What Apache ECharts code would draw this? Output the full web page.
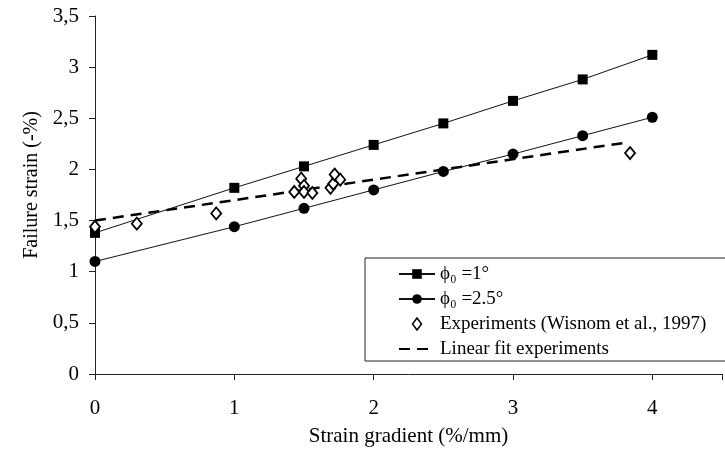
<!DOCTYPE html>
<html>
<head>
<meta charset="utf-8">
<script src="https://cdn.jsdelivr.net/npm/echarts@6/dist/echarts.min.js"></script>
<style>html,body{margin:0;padding:0;background:#fff}#c{width:725px;height:455px}</style>
</head>
<body>
<div id="c"></div>
<script>
// Data
const gradientsModel = [0, 1, 1.5, 2, 2.5, 3, 3.5, 4];
const phi1 = [1.38, 1.82, 2.03, 2.24, 2.45, 2.67, 2.88, 3.12];
const phi25 = [1.10, 1.44, 1.62, 1.80, 1.98, 2.15, 2.33, 2.51];
const expX = [0, 0.30, 0.87, 1.43, 1.48, 1.50, 1.50, 1.56, 1.69, 1.71, 1.72, 1.76, 3.84];
const expY = [1.44, 1.47, 1.57, 1.78, 1.91, 1.84, 1.78, 1.77, 1.82, 1.86, 1.95, 1.90, 2.16];
const fitX = [0, 3.8];
const fitY = [1.50, 2.26];
const yTicks = ['0', '0,5', '1', '1,5', '2', '2,5', '3', '3,5'];
const xTicks = ['0', '1', '2', '3', '4'];
const names = ['\u03d5\u2080 =1\u00b0', '\u03d5\u2080 =2.5\u00b0', 'Experiments (Wisnom et al., 1997)', 'Linear fit experiments'];

const zip = (a, b) => a.map((v, i) => [v, b[i]]);
const font = 'Liberation Serif';
const ink = '#000';
const chart = echarts.init(document.getElementById('c'));
chart.setOption({
  animation: false,
  backgroundColor: '#fff',
  textStyle: { fontFamily: font, color: ink },
  grid: { left: 95, right: 0, top: 16, bottom: 81 },
  xAxis: {
    type: 'value', min: 0, max: 4.5, interval: 1,
    name: 'Strain gradient (%/mm)', nameLocation: 'middle', nameGap: 52,
    nameTextStyle: { fontFamily: font, fontSize: 21, color: ink },
    axisLine: { lineStyle: { color: '#222', width: 1 } },
    axisTick: { show: true, inside: false, length: 6, lineStyle: { color: '#222' } },
    axisLabel: { margin: 24, fontFamily: font, fontSize: 21, color: ink,
      formatter: v => { const i = Math.round(v); return Math.abs(v - i) < 1e-9 && i < xTicks.length ? xTicks[i] : ''; } },
    splitLine: { show: false }
  },
  yAxis: {
    type: 'value', min: 0, max: 3.5, interval: 0.5,
    name: 'Failure strain (-%)', nameLocation: 'middle', nameGap: 48, nameRotate: 90,
    nameTextStyle: { fontFamily: font, fontSize: 20, color: ink, padding: [0, 0, 0, 20] },
    axisLine: { show: true, lineStyle: { color: '#222', width: 1 } },
    axisTick: { show: true, inside: false, length: 6, lineStyle: { color: '#222' } },
    axisLabel: { margin: 16, fontFamily: font, fontSize: 21, color: ink,
      formatter: v => yTicks[Math.round(v * 2)] },
    splitLine: { show: false }
  },
  legend: {
    orient: 'vertical', left: 365, top: 258,
    padding: [6, 300, 2, 33], itemGap: 5, itemWidth: 36, itemHeight: 12,
    symbolKeepAspect: true,
    borderColor: '#222', borderWidth: 1, backgroundColor: '#fff',
    textStyle: { fontFamily: font, fontSize: 19, color: ink, lineHeight: 20 },
    data: [
      { name: names[0] },
      { name: names[1] },
      { name: names[2], icon: 'path://M5,0 L9.5,6 L5,12 L0.5,6 Z',
        itemStyle: { color: '#fff', borderColor: ink, borderWidth: 1.5 } },
      { name: names[3], itemStyle: { opacity: 0 } }
    ]
  },
  series: [
    {
      name: names[0], type: 'line', data: zip(gradientsModel, phi1),
      symbol: 'rect', symbolSize: 10, showAllSymbol: true,
      lineStyle: { color: '#111', width: 1 }, itemStyle: { color: ink }, z: 3
    },
    {
      name: names[1], type: 'line', data: zip(gradientsModel, phi25),
      symbol: 'circle', symbolSize: 11, showAllSymbol: true,
      lineStyle: { color: '#111', width: 1 }, itemStyle: { color: ink }, z: 3
    },
    {
      name: names[2], type: 'scatter', data: zip(expX, expY),
      symbol: 'diamond', symbolSize: [10, 12],
      itemStyle: { color: '#fff', borderColor: ink, borderWidth: 1.8, opacity: 1 }, z: 4
    },
    {
      name: names[3], type: 'line', data: zip(fitX, fitY),
      symbol: 'none',
      lineStyle: { color: ink, width: 2.5, type: [11, 7] }, itemStyle: { color: ink }, z: 2
    }
  ]
});
</script>
</body>
</html>
